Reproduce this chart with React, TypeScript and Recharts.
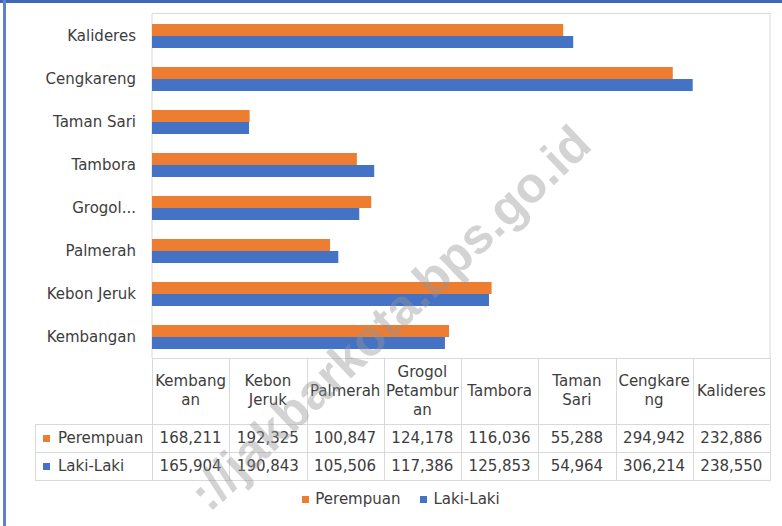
import { BarChart, Bar, XAxis, YAxis, CartesianGrid } from 'recharts'

// Jumlah penduduk per kecamatan, Jakarta Barat
const kecamatan = [
  'Kembangan',
  'Kebon Jeruk',
  'Palmerah',
  'Grogol Petamburan',
  'Tambora',
  'Taman Sari',
  'Cengkareng',
  'Kalideres',
]
const axisLabels = [
  'Kembangan',
  'Kebon Jeruk',
  'Palmerah',
  'Grogol...',
  'Tambora',
  'Taman Sari',
  'Cengkareng',
  'Kalideres',
]
const tableHeaders = [
  ['Kembang', 'an'],
  ['Kebon', 'Jeruk'],
  ['Palmerah'],
  ['Grogol', 'Petambur', 'an'],
  ['Tambora'],
  ['Taman', 'Sari'],
  ['Cengkare', 'ng'],
  ['Kalideres'],
]
const perempuan = [168211, 192325, 100847, 124178, 116036, 55288, 294942, 232886]
const lakiLaki = [165904, 190843, 105506, 117386, 125853, 54964, 306214, 238550]
const xTicks = [0, 50000, 100000, 150000, 200000, 250000, 300000, 350000]

const series = [
  { key: 'perempuan', name: 'Perempuan', color: '#ED7D31', values: perempuan },
  { key: 'laki', name: 'Laki-Laki', color: '#4472C4', values: lakiLaki },
]

const W = 782
const H = 526
const PLOT_LEFT = 152
const PLOT_RIGHT = 770
const PLOT_TOP = 14
const PLOT_BOTTOM = 358
const COL_W = (PLOT_RIGHT - PLOT_LEFT) / kecamatan.length
const TABLE_LEFT = 35
const HEAD_BOTTOM = 424
const ROW_H = 28
const GRID = '#d9d9d9'
const TEXT = '#3d3d3d'
const FONT = '"DejaVu Sans", sans-serif'

const chartData = kecamatan.map((name, i) => ({
  name,
  label: axisLabels[i],
  perempuan: perempuan[i],
  laki: lakiLaki[i],
}))

const fmt = (v: number) => v.toLocaleString('en-US')

function line(x: number, y: number, w: number, h: number, key: string) {
  return (
    <div
      key={key}
      style={{ position: 'absolute', left: x, top: y, width: w, height: h, background: GRID }}
    />
  )
}

export default function App() {
  const tableBottom = HEAD_BOTTOM + ROW_H * series.length
  const lines = []
  // vertical table lines
  for (let i = 0; i <= kecamatan.length; i++) {
    const x = Math.round(PLOT_LEFT + i * COL_W)
    lines.push(line(x, PLOT_BOTTOM, 1, tableBottom - PLOT_BOTTOM + 1, `v${i}`))
  }
  lines.push(line(TABLE_LEFT, HEAD_BOTTOM, 1, tableBottom - HEAD_BOTTOM + 1, 'vl'))
  // horizontal table lines
  lines.push(line(PLOT_LEFT, PLOT_BOTTOM, PLOT_RIGHT - PLOT_LEFT, 1, 'h0'))
  for (let r = 0; r <= series.length; r++) {
    lines.push(line(TABLE_LEFT, HEAD_BOTTOM + r * ROW_H, PLOT_RIGHT - TABLE_LEFT, 1, `h${r + 1}`))
  }

  return (
    <div
      style={{
        position: 'absolute',
        left: 0,
        top: 0,
        width: W,
        height: H,
        background: '#fff',
        overflow: 'hidden',
        fontFamily: FONT,
        color: TEXT,
      }}
    >
      <BarChart
        width={W}
        height={PLOT_BOTTOM}
        data={chartData}
        layout="vertical"
        margin={{ top: PLOT_TOP, right: W - PLOT_RIGHT, bottom: 0, left: 0 }}
        barCategoryGap="23%"
        barGap={0}
      >
        <CartesianGrid horizontal={false} stroke={GRID} />
        <XAxis
          type="number"
          domain={[0, 350000]}
          ticks={xTicks}
          height={0}
          tick={false}
          axisLine={false}
          tickLine={false}
        />
        <YAxis
          type="category"
          dataKey="label"
          reversed
          width={PLOT_LEFT}
          axisLine={false}
          tickLine={false}
          tickSize={0}
          tickMargin={16}
          tick={{ fill: TEXT, fontSize: 15, fontFamily: FONT }}
        />
        {series.map((s) => (
          <Bar key={s.key} dataKey={s.key} name={s.name} fill={s.color} isAnimationActive={false} />
        ))}
      </BarChart>

      {/* top frame line of the plot */}
      {line(PLOT_LEFT, PLOT_TOP - 1, PLOT_RIGHT - PLOT_LEFT + 1, 1, 'top')}

      {/* data table */}
      {lines}
      {tableHeaders.map((h, i) => (
        <div
          key={`head-${i}`}
          style={{
            position: 'absolute',
            left: PLOT_LEFT + i * COL_W,
            top: PLOT_BOTTOM,
            width: COL_W,
            height: HEAD_BOTTOM - PLOT_BOTTOM,
            display: 'flex',
            flexDirection: 'column',
            justifyContent: 'center',
            alignItems: 'center',
            fontSize: 15,
            lineHeight: '19px',
            whiteSpace: 'nowrap',
          }}
        >
          {h.map((t, j) => (
            <span key={j}>{t}</span>
          ))}
        </div>
      ))}
      {series.map((s, r) => (
        <div key={`row-${s.key}`}>
          <div
            style={{
              position: 'absolute',
              left: TABLE_LEFT + 8,
              top: HEAD_BOTTOM + r * ROW_H,
              height: ROW_H,
              display: 'flex',
              alignItems: 'center',
              fontSize: 15,
              whiteSpace: 'nowrap',
            }}
          >
            <span style={{ width: 7, height: 7, background: s.color, marginRight: 8, display: 'inline-block' }} />
            {s.name}
          </div>
          {s.values.map((v, i) => (
            <div
              key={i}
              style={{
                position: 'absolute',
                left: PLOT_LEFT + i * COL_W,
                top: HEAD_BOTTOM + r * ROW_H,
                width: COL_W,
                height: ROW_H,
                display: 'flex',
                alignItems: 'center',
                justifyContent: 'center',
                fontSize: 15,
              }}
            >
              {fmt(v)}
            </div>
          ))}
        </div>
      ))}

      {/* legend */}
      <div
        style={{
          position: 'absolute',
          left: 0,
          width: W,
          top: 489,
          height: 20,
          display: 'flex',
          justifyContent: 'center',
          alignItems: 'center',
          fontSize: 15,
          paddingLeft: 20,
          boxSizing: 'border-box',
        }}
      >
        {series.map((s) => (
          <div key={s.key} style={{ display: 'flex', alignItems: 'center', margin: '0 10px' }}>
            <span style={{ width: 7, height: 7, background: s.color, marginRight: 6, display: 'inline-block' }} />
            {s.name}
          </div>
        ))}
      </div>

      {/* watermark (only the part that shows inside the frame) */}
      <div
        style={{
          position: 'absolute',
          left: 390,
          top: 318,
          transform: 'translate(-50%, -50%) rotate(-43.6deg)',
          fontFamily: '"Liberation Sans", Arial, sans-serif',
          fontWeight: 'bold',
          fontSize: 50,
          lineHeight: '52px',
          color: 'rgba(150,150,150,0.42)',
          whiteSpace: 'nowrap',
          pointerEvents: 'none',
        }}
      >
        ://jakbarkota.bps.go.id
      </div>

      {/* window borders */}
      <div style={{ position: 'absolute', left: 0, top: 0, width: W, height: 3, background: '#3f69b8' }} />
      <div style={{ position: 'absolute', left: 3, top: 0, width: 3, height: H, background: '#5f83c8' }} />
    </div>
  )
}
